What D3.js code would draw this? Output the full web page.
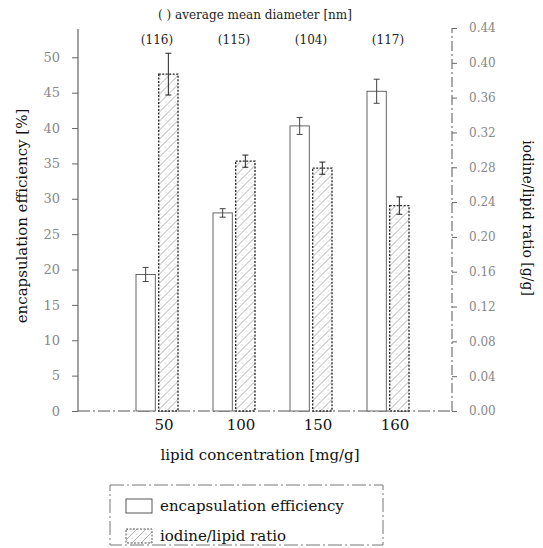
<!DOCTYPE html>
<html>
<head>
<meta charset="utf-8">
<script src="https://cdn.jsdelivr.net/npm/d3@7"></script>
<style>
  body { margin: 0; background: #fff; }
  svg { display: block; font-family: "DejaVu Serif", "Liberation Serif", serif; }
</style>
</head>
<body>
<svg id="chart" width="543" height="548"></svg>
<script>
// lipid concentration groups
const CATEGORIES = ["50", "100", "150", "160"];
const DIAMETERS = ["(116)", "(115)", "(104)", "(117)"];
// encapsulation efficiency [%] and its error
const EE_VALUES = [19.3, 28.0, 40.3, 45.2];
const EE_ERRORS = [1.0, 0.6, 1.2, 1.7];
// iodine/lipid ratio [g/g] and its error
const IL_VALUES = [0.387, 0.287, 0.279, 0.236];
const IL_ERRORS = [0.024, 0.007, 0.007, 0.010];
const LEFT_TICKS = [0, 5, 10, 15, 20, 25, 30, 35, 40, 45, 50];
const RIGHT_TICKS = [0, 0.04, 0.08, 0.12, 0.16, 0.20, 0.24, 0.28, 0.32, 0.36, 0.40, 0.44];
const SERIES = ["ee", "il"];

const svg = d3.select("#chart");

// hatched fill for the iodine bars
const defs = svg.append("defs");
const pat = defs.append("pattern").attr("id", "hatch")
    .attr("patternUnits", "userSpaceOnUse").attr("width", 9).attr("height", 9);
pat.append("rect").attr("width", 9).attr("height", 9).attr("fill", "#fff");
pat.append("path").attr("d", "M-1,10 L10,-1 M-1,1 L1,-1 M8,10 L10,8")
    .attr("stroke", "#9a9a9a").attr("stroke-width", 0.8);
pat.append("circle").attr("cx", 2).attr("cy", 3).attr("r", 0.5).attr("fill", "#999");
pat.append("circle").attr("cx", 6).attr("cy", 7).attr("r", 0.5).attr("fill", "#aaa");

const baseY = 411;
const axL = 78, axR = 452;

const x0 = d3.scaleBand().domain(CATEGORIES).range([118.5, 426.5]).paddingInner(0);
const x1 = d3.scaleBand().domain(SERIES)
    .range([x0.bandwidth() / 2 - 21, x0.bandwidth() / 2 + 21]).paddingInner(0.15);
const yL = d3.scaleLinear().domain([0, 54]).range([baseY, 29]);
const yR = d3.scaleLinear().domain([0, 0.44]).range([baseY, 28]);

// left axis
const gl = svg.append("g").attr("transform", `translate(${axL},0)`)
    .call(d3.axisLeft(yL).tickValues(LEFT_TICKS).tickSize(6).tickPadding(12).tickFormat(d3.format("d")));
gl.select(".domain").attr("stroke", "#444").attr("d", `M0,${baseY}V29`);
gl.selectAll(".tick line").attr("stroke", "#666");
gl.selectAll("text").attr("fill", "#888").attr("font-size", 13).attr("font-family", "DejaVu Serif");

// right axis
const gr = svg.append("g").attr("transform", `translate(${axR},0)`)
    .call(d3.axisRight(yR).tickValues(RIGHT_TICKS).tickSize(5).tickPadding(12).tickFormat(d3.format(".2f")));
gr.select(".domain").attr("stroke", "#555").attr("stroke-dasharray", "10,3,2,3").attr("d", `M0,${baseY}V28`);
gr.selectAll(".tick line").attr("stroke", "#666");
gr.selectAll("text").attr("fill", "#888").attr("font-size", 12).attr("font-family", "DejaVu Serif");

// baseline
svg.append("line").attr("x1", axL).attr("x2", axR).attr("y1", baseY).attr("y2", baseY)
    .attr("stroke", "#555").attr("stroke-dasharray", "12,3,2,3");

// x axis labels
const gx = svg.append("g").attr("transform", `translate(0,${baseY})`)
    .call(d3.axisBottom(x0).tickSize(0).tickPadding(8));
gx.select(".domain").remove();
gx.selectAll("text").attr("dx", 7).attr("fill", "#111").attr("font-size", 15)
    .attr("font-family", "DejaVu Serif");

const groups = svg.append("g").selectAll("g").data(CATEGORIES).join("g")
    .attr("transform", d => `translate(${x0(d)},0)`);

// encapsulation efficiency bars
groups.append("rect")
    .attr("x", x1("ee")).attr("width", x1.bandwidth())
    .attr("y", (d, i) => yL(EE_VALUES[i]))
    .attr("height", (d, i) => baseY - yL(EE_VALUES[i]))
    .attr("fill", "#fff").attr("stroke", "#555").attr("stroke-width", 0.9);

// iodine/lipid bars
groups.append("rect")
    .attr("x", x1("il")).attr("width", x1.bandwidth())
    .attr("y", (d, i) => yR(IL_VALUES[i]))
    .attr("height", (d, i) => baseY - yR(IL_VALUES[i]))
    .attr("fill", "url(#hatch)").attr("stroke", "#222").attr("stroke-width", 1.3)
    .attr("stroke-dasharray", "2,1.5");

// error bars
function errBar(sel, cx, yTop, yBot, col) {
    sel.append("line").attr("x1", cx).attr("x2", cx).attr("y1", yTop).attr("y2", yBot)
        .attr("stroke", col).attr("stroke-width", 1);
    [yTop, yBot].forEach(yy => sel.append("line")
        .attr("x1", cx - 3).attr("x2", cx + 3).attr("y1", yy).attr("y2", yy)
        .attr("stroke", col).attr("stroke-width", 1));
}
groups.each(function (d, i) {
    const g = d3.select(this);
    const cE = x1("ee") + x1.bandwidth() / 2;
    errBar(g, cE, yL(EE_VALUES[i] + EE_ERRORS[i]), yL(EE_VALUES[i] - EE_ERRORS[i]), "#444");
    const cI = x1("il") + x1.bandwidth() / 2;
    errBar(g, cI, yR(IL_VALUES[i] + IL_ERRORS[i]), yR(IL_VALUES[i] - IL_ERRORS[i]), "#222");
});

// diameter labels
svg.append("g").selectAll("text").data(DIAMETERS).join("text")
    .attr("x", (d, i) => x0(CATEGORIES[i]) + x0.bandwidth() / 2)
    .attr("y", 44).attr("text-anchor", "middle")
    .attr("font-size", 12).attr("fill", "#222").text(d => d);

svg.append("text").attr("x", 255).attr("y", 19).attr("text-anchor", "middle")
    .attr("font-size", 12).attr("fill", "#222").text("( ) average mean diameter [nm]");

// axis titles
svg.append("text").attr("transform", "translate(27,216) rotate(-90)")
    .attr("text-anchor", "middle").attr("font-size", 15).attr("fill", "#111")
    .text("encapsulation efficiency [%]");
svg.append("text").attr("transform", "translate(523,218) rotate(90)")
    .attr("text-anchor", "middle").attr("font-size", 14).attr("fill", "#111")
    .text("iodine/lipid ratio [g/g]");
svg.append("text").attr("x", 260).attr("y", 460).attr("text-anchor", "middle")
    .attr("font-size", 15).attr("fill", "#111").text("lipid concentration [mg/g]");

// legend
const lg = svg.append("g");
lg.append("rect").attr("x", 110).attr("y", 485).attr("width", 273).attr("height", 60)
    .attr("fill", "none").attr("stroke", "#777").attr("stroke-dasharray", "14,3,2,3");
const legendItems = [
    { label: "encapsulation efficiency", fill: "#fff", dash: null },
    { label: "iodine/lipid ratio", fill: "url(#hatch)", dash: "2,1.5" }
];
legendItems.forEach((it, i) => {
    const yy = 499 + i * 30;
    lg.append("rect").attr("x", 126).attr("y", yy).attr("width", 26).attr("height", 14)
        .attr("fill", it.fill).attr("stroke", "#444").attr("stroke-width", 0.9)
        .attr("stroke-dasharray", it.dash);
    lg.append("text").attr("x", 160).attr("y", yy + 12).attr("font-size", 15)
        .attr("fill", "#111").text(it.label);
});
</script>
</body>
</html>
